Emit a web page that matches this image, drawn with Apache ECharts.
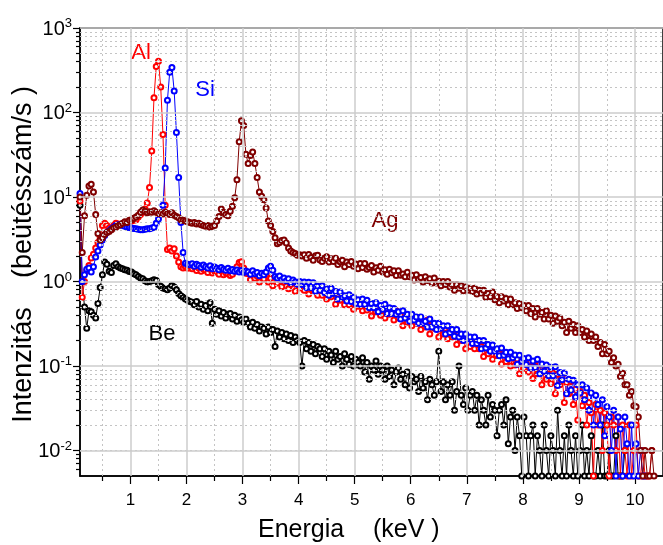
<!DOCTYPE html>
<html>
<head>
<meta charset="utf-8">
<title>Spektrumok</title>
<script src="https://cdn.jsdelivr.net/npm/echarts@6.0.0/dist/echarts.min.js"></script>
<style>
  html, body { margin: 0; padding: 0; background: #fff; }
  #chart { width: 663px; height: 545px; }
</style>
</head>
<body>
<div id="chart"></div>
<script>
// energia-kalibráció: csatornánként 0.04 keV, 0.10 keV-től
var energyStart = 0.10, energyStep = 0.04;

var agValues = [
  10, 2.2, 6.0, 10.5, 13.5, 14.2, 11.5, 6.2, 3.7, 3.1, 3.3, 3.6, 3.8, 3.9, 4.1, 4.3, 4.4, 4.6, 4.7, 4.9, 5.1, 5.0, 5.3, 5.4, 5.6,
  5.8, 6.1, 6.6, 7.0, 6.8, 6.5, 6.7, 6.6, 6.9, 6.6, 6.4, 6.5, 6.3, 6.6, 6.4, 6.2, 6.5, 6.1, 5.9, 5.7, 5.4, 5.3, 5.2, 5.1, 5.0,
  4.9, 5.0, 4.8, 4.9, 4.7, 4.6, 4.5, 4.6, 4.4, 4.5, 4.6, 5.2, 5.9, 7.2, 6.6, 6.2, 6.0, 6.8, 7.8, 9.8, 16, 45, 80, 70, 32,
  25, 31, 34, 25, 17, 11.5, 10.2, 9.3, 7.4, 5.2, 4.6, 3.9, 3.3, 2.8, 2.9, 3.05, 3.1, 2.85, 2.5, 2.3, 2.2, 2.15, 2.05, 2.08, 2.0,
  2.08, 1.88, 2.09, 1.93, 1.78, 2.02, 2.05, 1.8, 1.73, 1.89, 1.96, 1.7, 1.86, 1.73, 1.89, 1.59, 1.71, 1.79, 1.5, 1.7, 1.59, 1.73, 1.52, 1.61, 1.42,
  1.63, 1.47, 1.63, 1.4, 1.47, 1.55, 1.3, 1.46, 1.36, 1.52, 1.3, 1.38, 1.22, 1.4, 1.27, 1.34, 1.18, 1.34, 1.19, 1.23, 1.14, 1.29, 1.14, 1.19, 1.04,
  1.2, 1.06, 1.12, 0.99, 1.14, 1.03, 1.08, 0.96, 1.1, 0.96, 1.01, 0.89, 1.0, 0.92, 1.0, 0.86, 0.92, 0.79, 0.92, 0.83, 0.89, 0.78, 0.86, 0.79, 0.83,
  0.76, 0.83, 0.71, 0.79, 0.73, 0.79, 0.65, 0.72, 0.66, 0.75, 0.61, 0.66, 0.56, 0.66, 0.59, 0.63, 0.53, 0.62, 0.53, 0.56, 0.48, 0.55, 0.49, 0.52, 0.45,
  0.52, 0.42, 0.48, 0.38, 0.48, 0.41, 0.43, 0.36, 0.45, 0.36, 0.4, 0.32, 0.39, 0.34, 0.37, 0.3, 0.33, 0.25, 0.34, 0.28, 0.31, 0.25, 0.3, 0.25, 0.27,
  0.22, 0.26, 0.2, 0.24, 0.2, 0.22, 0.17, 0.19, 0.14, 0.18, 0.14, 0.15, 0.11, 0.125, 0.1, 0.105, 0.075, 0.082, 0.06, 0.06, 0.045, 0.05, 0.034, 0.033, 0.025,
  0.01, 0.005, 0.01, 0.005, 0.005, 0.01, 0.005, null, null
];

var alValues = [
  9, 0.65, 1.0, 1.35, 1.55, 1.9, 2.1, 2.5, 2.9, 3.3, 4.6, 4.9, 4.6, 4.3, 4.2, 4.6, 4.9, 4.8, 4.7, 4.8, 4.9, 5.0, 5.1, 5.2, 5.3,
  5.4, 5.8, 6.2, 6.6, 7.2, 8.5, 13, 35, 150, 350, 405, 200, 55, 8, 2.4, 2.5, 2.3, 2.45, 2.0, 1.7, 1.5, 1.45, 1.5, 1.44, 1.52,
  1.42, 1.5, 1.35, 1.45, 1.32, 1.41, 1.36, 1.28, 1.4, 1.26, 1.33, 1.3, 1.22, 1.33, 1.2, 1.27, 1.24, 1.18, 1.22, 1.32, 1.5, 1.68, 1.72, 1.45, 1.25,
  1.24, 1.05, 1.28, 1.09, 1.16, 0.99, 1.2, 1.07, 1.22, 0.99, 1.09, 0.89, 1.12, 0.96, 1.05, 0.87, 0.99, 1.06, 0.82, 0.92, 0.98, 0.77, 0.93, 0.84, 0.96,
  0.79, 0.92, 0.71, 0.86, 0.79, 0.87, 0.69, 0.78, 0.69, 0.83, 0.62, 0.75, 0.66, 0.73, 0.54, 0.66, 0.6, 0.68, 0.53, 0.62, 0.53, 0.63, 0.47, 0.56, 0.51,
  0.58, 0.45, 0.53, 0.46, 0.55, 0.39, 0.5, 0.44, 0.51, 0.4, 0.46, 0.37, 0.48, 0.41, 0.44, 0.35, 0.45, 0.37, 0.4, 0.3, 0.4, 0.33, 0.39, 0.3, 0.35,
  0.32, 0.37, 0.27, 0.34, 0.29, 0.35, 0.24, 0.31, 0.28, 0.31, 0.22, 0.28, 0.24, 0.28, 0.21, 0.27, 0.22, 0.23, 0.18, 0.24, 0.2, 0.22, 0.16, 0.22, 0.17,
  0.2, 0.16, 0.2, 0.16, 0.17, 0.13, 0.18, 0.14, 0.16, 0.12, 0.157, 0.133, 0.141, 0.106, 0.143, 0.113, 0.129, 0.1, 0.124, 0.103, 0.121, 0.081, 0.109, 0.094, 0.112,
  0.085, 0.113, 0.071, 0.1, 0.081, 0.106, 0.06, 0.088, 0.07, 0.092, 0.062, 0.083, 0.047, 0.08, 0.06, 0.077, 0.037, 0.064, 0.047, 0.066, 0.035, 0.053, 0.023, 0.05, 0.034,
  0.045, 0.02, 0.037, 0.028, 0.005, 0.035, 0.02, 0.03, 0.01, 0.028, 0.02, 0.005, 0.025, 0.02, 0.01, 0.025, 0.005, 0.02, 0.01, 0.005, 0.02, 0.005, 0.01, 0.02, 0.005,
  0.005, 0.01, 0.005, 0.005, 0.005, 0.01, null, null, null
];

var siValues = [
  11, 1.0, 1.2, 1.4, 1.45, 1.3, 1.5, 1.95, 2.3, 2.7, 3.1, 3.5, 3.8, 4.0, 4.2, 4.4, 4.6, 4.7, 4.7, 4.6, 4.5, 4.4, 4.35, 4.3, 4.25,
  4.2, 4.15, 4.1, 4.1, 4.15, 4.2, 4.2, 4.3, 4.4, 4.9, 5.5, 6.4, 8, 22, 140, 300, 340, 180, 58, 17, 5, 2.2, 1.65, 1.6, 1.58,
  1.62, 1.52, 1.6, 1.55, 1.48, 1.57, 1.5, 1.45, 1.54, 1.42, 1.49, 1.44, 1.38, 1.47, 1.4, 1.36, 1.44, 1.34, 1.39, 1.32, 1.37, 1.3, 1.35, 1.28, 1.33,
  1.3, 1.22, 1.34, 1.24, 1.28, 1.17, 1.25, 1.2, 1.3, 1.45, 1.52, 1.36, 1.15, 1.1, 1.16, 1.05, 1.1, 1.02, 1.08, 0.97, 1.04, 0.99, 0.93, 1.0, 0.92,
  0.99, 0.85, 0.98, 0.85, 0.97, 0.77, 0.88, 0.79, 0.89, 0.74, 0.82, 0.69, 0.83, 0.72, 0.76, 0.62, 0.75, 0.65, 0.68, 0.59, 0.7, 0.58, 0.65, 0.55, 0.61,
  0.54, 0.62, 0.54, 0.6, 0.49, 0.55, 0.49, 0.56, 0.44, 0.52, 0.47, 0.54, 0.42, 0.49, 0.42, 0.48, 0.41, 0.44, 0.36, 0.45, 0.37, 0.41, 0.34, 0.41, 0.35,
  0.38, 0.32, 0.38, 0.32, 0.34, 0.29, 0.36, 0.29, 0.32, 0.27, 0.32, 0.28, 0.3, 0.24, 0.3, 0.25, 0.27, 0.225, 0.27, 0.22, 0.24, 0.2, 0.24, 0.21, 0.22,
  0.185, 0.22, 0.185, 0.2, 0.16, 0.2, 0.163, 0.18, 0.15, 0.178, 0.15, 0.16, 0.132, 0.164, 0.134, 0.146, 0.122, 0.146, 0.125, 0.135, 0.105, 0.134, 0.114, 0.123, 0.104,
  0.125, 0.095, 0.115, 0.096, 0.12, 0.081, 0.106, 0.087, 0.103, 0.077, 0.097, 0.077, 0.098, 0.059, 0.084, 0.069, 0.083, 0.047, 0.07, 0.052, 0.068, 0.043, 0.06, 0.048, 0.06,
  0.04, 0.055, 0.03, 0.048, 0.02, 0.045, 0.035, 0.02, 0.04, 0.015, 0.033, 0.025, 0.01, 0.03, 0.005, 0.025, 0.018, 0.005, 0.025, 0.012, 0.005, 0.02, 0.005, 0.012, 0.005,
  0.01, 0.005, 0.005, null, null, null, null, null, null
];

var beValues = [
  8, 1.0, 0.5, 0.28, 0.45, 0.44, 0.4, 0.37, 0.55, 0.85, 1.2, 1.7, 1.6, 1.32, 1.28, 1.55, 1.62, 1.5, 1.45, 1.42, 1.38, 1.36, 1.31, 1.3, 1.24,
  1.2, 1.15, 1.1, 1.08, 1.02, 0.99, 1.0, 1.02, 1.05, 1.03, 0.92, 0.88, 0.84, 0.82, 0.8, 0.84, 0.9, 0.86, 0.8, 0.72, 0.68, 0.65, 0.62, 0.6, 0.58,
  0.57, 0.53, 0.58, 0.5, 0.54, 0.47, 0.52, 0.45, 0.56, 0.32, 0.47, 0.41, 0.45, 0.39, 0.43, 0.37, 0.41, 0.42, 0.36, 0.4, 0.34, 0.38, 0.35, 0.33, 0.36,
  0.32, 0.29, 0.33, 0.28, 0.31, 0.26, 0.29, 0.28, 0.24, 0.29, 0.25, 0.27, 0.17, 0.26, 0.22, 0.25, 0.21, 0.24, 0.2, 0.23, 0.19, 0.22, 0.2, 0.19, 0.1,
  0.2, 0.16, 0.19, 0.15, 0.18, 0.14, 0.17, 0.16, 0.13, 0.16, 0.12, 0.15, 0.135, 0.11, 0.15, 0.12, 0.13, 0.1, 0.14, 0.12, 0.105, 0.13, 0.1, 0.12, 0.11,
  0.1, 0.125, 0.085, 0.11, 0.07, 0.1, 0.09, 0.115, 0.08, 0.1, 0.09, 0.07, 0.1, 0.075, 0.09, 0.06, 0.085, 0.095, 0.07, 0.08, 0.06, 0.085, 0.055, 0.075, 0.065,
  0.07, 0.05, 0.075, 0.055, 0.065, 0.04, 0.07, 0.06, 0.045, 0.065, 0.15, 0.05, 0.065, 0.04, 0.06, 0.045, 0.065, 0.03, 0.05, 0.1, 0.045, 0.035, 0.055, 0.03, 0.045,
  0.05, 0.03, 0.045, 0.02, 0.04, 0.03, 0.02, 0.045, 0.025, 0.035, 0.03, 0.015, 0.03, 0.035, 0.02, 0.04, 0.012, 0.025, 0.03, 0.01, 0.025, 0.015, 0.005, 0.025, 0.015,
  0.005, 0.015, 0.02, 0.005, 0.015, 0.01, 0.005, 0.02, 0.01, 0.005, 0.015, 0.01, 0.005, 0.03, 0.01, 0.005, 0.015, 0.005, 0.02, 0.01, 0.005, 0.015, 0.005, 0.01, 0.02,
  0.005, 0.01, 0.005, 0.015, 0.005, 0.005, 0.01, 0.005, 0.02, 0.005, 0.005, 0.01, 0.005, 0.005, 0.015, 0.005, 0.005, 0.005, 0.01, null, null, null, null, null, null,
  null, null, null, null, null, null, null, null, null
];

var xTicks = [1, 2, 3, 4, 5, 6, 7, 8, 9, 10];
var xMinorTicks = [0.5, 1.5, 2.5, 3.5, 4.5, 5.5, 6.5, 7.5, 8.5, 9.5];
var yTicks = [0.01, 0.1, 1, 10, 100, 1000];
var yMinorTicks = [
  0.006, 0.007, 0.008, 0.009,
  0.02, 0.03, 0.04, 0.05, 0.06, 0.07, 0.08, 0.09,
  0.2, 0.3, 0.4, 0.5, 0.6, 0.7, 0.8, 0.9,
  2, 3, 4, 5, 6, 7, 8, 9,
  20, 30, 40, 50, 60, 70, 80, 90,
  200, 300, 400, 500, 600, 700, 800, 900
];

var fontFamily = '"Liberation Sans", Arial, sans-serif';
var majorGrid = { color: '#cccccc', width: 1.5, type: 'solid' };
var minorGrid = { color: '#c4c4c4', width: 1, type: [2, 3] };

function toPairs(values){
  var out = [];
  values.forEach(function(v, i){
    if (v !== null) out.push([+(energyStart + i * energyStep).toFixed(2), v]);
  });
  return out;
}

function spectrum(name, color, values){
  return {
    name: name,
    type: 'line',
    z: 3,
    data: toPairs(values),
    symbol: 'emptyCircle',
    symbolSize: 5,
    showAllSymbol: true,
    lineStyle: { color: color, width: 1 },
    itemStyle: { color: color, borderColor: color, borderWidth: 1 },
    emphasis: { disabled: true },
    animation: false
  };
}

// rácsvonalak markLine-nal
function gridLines(){
  var lines = [];
  xMinorTicks.forEach(function(v){ lines.push({ xAxis: v, lineStyle: minorGrid }); });
  yMinorTicks.forEach(function(v){ lines.push({ yAxis: v, lineStyle: minorGrid }); });
  xTicks.forEach(function(v){ lines.push({ xAxis: v, lineStyle: majorGrid }); });
  yTicks.forEach(function(v){ lines.push({ yAxis: v, lineStyle: majorGrid }); });
  return {
    type: 'line',
    z: 1,
    data: [],
    silent: true,
    markLine: {
      silent: true,
      animation: false,
      symbol: ['none', 'none'],
      label: { show: false },
      data: lines
    }
  };
}

var chart = echarts.init(document.getElementById('chart'));
chart.setOption({
  animation: false,
  textStyle: { fontFamily: fontFamily },
  grid: {
    left: 80, top: 28, right: -2, bottom: 69,
    show: true, borderColor: '#000', borderWidth: 1.5
  },
  xAxis: [{
    type: 'value', min: 0.1, max: 10.5, position: 'bottom',
    axisLine: { lineStyle: { color: '#000', width: 1.5 } },
    axisTick: { customValues: xTicks, length: 8, lineStyle: { color: '#000', width: 1.2 } },
    axisLabel: { customValues: xTicks, fontSize: 17, color: '#000', margin: 16, fontFamily: fontFamily },
    splitLine: { show: false }
  }, {
    type: 'value', min: 0.1, max: 10.5, position: 'bottom',
    axisLine: { show: false },
    axisTick: { customValues: xMinorTicks, length: 5, lineStyle: { color: '#000', width: 1.2 } },
    axisLabel: { show: false },
    splitLine: { show: false }
  }],
  yAxis: [{
    type: 'log', logBase: 10, min: 0.005, max: 1000, position: 'left',
    axisLine: { show: true, lineStyle: { color: '#000', width: 1.5 } },
    axisTick: { show: true, customValues: yTicks, length: 7, lineStyle: { color: '#000', width: 1.2 } },
    axisLabel: {
      customValues: yTicks, margin: 8, color: '#000',
      formatter: function(v){
        return '{b|10}{e|' + Math.round(Math.log10(v)) + '}';
      },
      rich: {
        b: { fontSize: 20, fontFamily: fontFamily, color: '#000', lineHeight: 22, verticalAlign: 'bottom' },
        e: { fontSize: 13, fontFamily: fontFamily, color: '#000', lineHeight: 22, verticalAlign: 'top' }
      }
    },
    splitLine: { show: false }
  }, {
    type: 'log', logBase: 10, min: 0.005, max: 1000, position: 'left',
    axisLine: { show: false },
    axisTick: { show: true, customValues: yMinorTicks, length: 4, lineStyle: { color: '#000', width: 1.2 } },
    axisLabel: { show: false },
    splitLine: { show: false }
  }],
  series: [
    gridLines(),
    spectrum('Be', '#000000', beValues),
    spectrum('Al', '#ff0000', alValues),
    spectrum('Si', '#0000ff', siValues),
    spectrum('Ag', '#800000', agValues)
  ],
  graphic: [
    { type: 'text', x: 141, y: 53, silent: true, style: { text: 'Al', fill: '#ff0000', font: '22px ' + fontFamily, textAlign: 'center', textVerticalAlign: 'middle' } },
    { type: 'text', x: 205, y: 90, silent: true, style: { text: 'Si', fill: '#0000ff', font: '22px ' + fontFamily, textAlign: 'center', textVerticalAlign: 'middle' } },
    { type: 'text', x: 385, y: 221, silent: true, style: { text: 'Ag', fill: '#800000', font: '22px ' + fontFamily, textAlign: 'center', textVerticalAlign: 'middle' } },
    { type: 'text', x: 162, y: 334, silent: true, style: { text: 'Be', fill: '#000000', font: '22px ' + fontFamily, textAlign: 'center', textVerticalAlign: 'middle' } },
    { type: 'text', x: 258, y: 530, silent: true, style: { text: 'Energia', fill: '#000', font: '25px ' + fontFamily, textAlign: 'left', textVerticalAlign: 'middle' } },
    { type: 'text', x: 373, y: 530, silent: true, style: { text: '(keV )', fill: '#000', font: '25px ' + fontFamily, textAlign: 'left', textVerticalAlign: 'middle' } },
    { type: 'text', x: 24, y: 365, rotation: Math.PI / 2, silent: true, style: { text: 'Intenzitás', fill: '#000', font: '27px ' + fontFamily, textAlign: 'center', textVerticalAlign: 'middle' } },
    { type: 'text', x: 24, y: 182, rotation: Math.PI / 2, silent: true, style: { text: '(beütésszám/s )', fill: '#000', font: '27px ' + fontFamily, textAlign: 'center', textVerticalAlign: 'middle' } }
  ]
});
</script>
</body>
</html>
